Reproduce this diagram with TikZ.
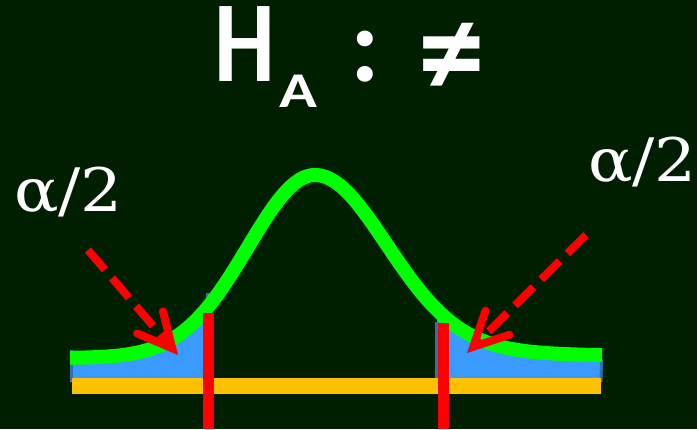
\documentclass[tikz,border=0pt]{standalone}
\usepackage{fontspec}
\setmainfont{Carlito}
\newfontfamily\serfont{DejaVu Serif}
\usetikzlibrary{arrows.meta}
\definecolor{bgc}{RGB}{0,30,0}
\definecolor{curvec}{RGB}{0,255,0}
\definecolor{tailc}{RGB}{58,154,255}
\definecolor{tailedge}{RGB}{46,112,180}
\definecolor{axisc}{RGB}{255,192,0}
\definecolor{critc}{RGB}{255,0,0}
\tikzset{
  x=1pt,y=-1pt,
  titletxt/.style={inner sep=0pt,anchor=base west,text=white,font=\bfseries\fontsize{107}{107}\selectfont},
  subtxt/.style={inner sep=0pt,anchor=base west,text=white,font=\bfseries\fontsize{50}{50}\selectfont},
  alphatxt/.style={inner sep=0pt,anchor=base west,text=white,font=\serfont\fontsize{60}{60}\selectfont},
  critline/.style={critc,line width=11pt},
  pointer/.style={critc,line width=8pt,dash pattern=on 26pt off 11pt,-{Straight Barb[length=34pt,width=34pt,line cap=round]}},
}
% density-like curve (pixel units)
\def\lefty(#1){358-183*exp(-0.5*((#1-315)/67)^2)}
\def\righty(#1){358-183*(0.88*exp(-0.5*((#1-315)/72)^2)+0.12/(1+((#1-315)/110)^2))}
\begin{document}
\begin{tikzpicture}
\fill[bgc] (0,0) rectangle (697,429);
\useasboundingbox (0,0) rectangle (697,429);
% tails
\fill[tailc] plot[domain=70:209,samples=40] (\x,{\lefty(\x)}) -- (209,382) -- (70,382) -- cycle;
\fill[tailedge] (205.5,293) rectangle (209.5,310);
\fill[tailc] (437,{\righty(437)}) -- plot[domain=437:602,samples=40] (\x,{\righty(\x)}) -- (602,382) -- (437,382) -- cycle;
\fill[tailedge] (435,322) rectangle (438,382);
\draw[tailedge,line width=3pt] (71.5,350) -- (71.5,381);
\draw[tailedge,line width=3pt] (601.5,359) -- (601,381);
% curve
\draw[curvec,line width=14pt,line join=round]
  plot[domain=70:315,samples=80] (\x,{\lefty(\x)})
  -- plot[domain=315:602,samples=90] (\x,{\righty(\x)});
% axis
\draw[axisc,line width=16pt] (72,386) -- (601,386);
% critical lines
\coordinate (lc1) at (208,313); \coordinate (lc2) at (208,429);
\coordinate (rc1) at (443,323); \coordinate (rc2) at (443,429);
\draw[critline] (lc1) -- (lc2);
\draw[critline] (rc1) -- (rc2);
% pointers
\coordinate (la) at (88,250); \coordinate (lt) at (178,355);
\coordinate (ra) at (586,235); \coordinate (rt) at (467,353);
\draw[pointer] (la) -- (lt);
\draw[pointer] (ra) -- (rt);
% labels
\node[alphatxt] (al) at (14,211) {\scalebox{1.1}[1]{α/2}};
\node[alphatxt] (ar) at (588,181) {\scalebox{1.1}[1]{α/2}};
\node[titletxt] (h) at (214,81) {\scalebox{0.9}[1.08]{H}};
\node[subtxt] (hs) at (279,107) {\scalebox{1.25}[1]{A}};
\node[titletxt] (col) at (350,81) {:};
\node[titletxt] (neq) at (418,96) {\scalebox{1.25}{≠}};
\end{tikzpicture}
\end{document}
